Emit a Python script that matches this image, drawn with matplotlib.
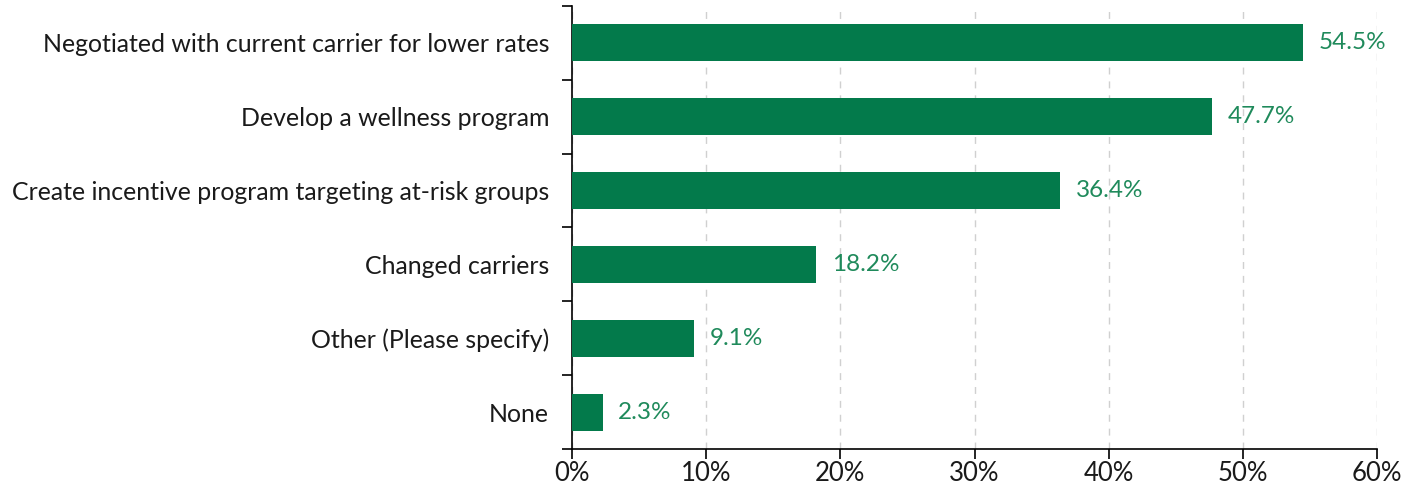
import matplotlib.pyplot as plt
from matplotlib.ticker import FixedLocator, PercentFormatter

categories = [
    'Negotiated with current carrier for lower rates',
    'Develop a wellness program',
    'Create incentive program targeting at-risk groups',
    'Changed carriers',
    'Other (Please specify)',
    'None',
]
values = [54.5, 47.7, 36.4, 18.2, 9.1, 2.3]
value_labels = ['54.5%', '47.7%', '36.4%', '18.2%', '9.1%', '2.3%']

plt.rcParams['font.family'] = ['Lato', 'DejaVu Sans']

fig = plt.figure(figsize=(14.03, 4.94), dpi=100)
ax = fig.add_axes([0.4077, 0.0911, 0.5738, 0.8968])

ypos = list(range(len(categories)))
ax.barh(ypos, values, height=0.5, color='#037a4b', zorder=3)
for y, v, lab in zip(ypos, values, value_labels):
    ax.text(v + 1.15, y, lab, va='center', ha='left', fontsize=17.5, color='#1f8a5b')

ax.set_xlim(0, 60)
ax.set_ylim(len(categories) - 0.5, -0.5)
ax.set_yticks(ypos)
ax.set_yticklabels(categories, fontsize=17.95, color='#1a1a1a')
ax.tick_params(axis='y', which='major', length=0, pad=16.5)
ax.yaxis.set_minor_locator(FixedLocator([i - 0.5 for i in range(len(categories) + 1)]))
ax.tick_params(axis='y', which='minor', length=7, width=1.2, direction='out')

ax.set_xticks(range(0, 61, 10))
ax.xaxis.set_major_formatter(PercentFormatter(decimals=0))
ax.tick_params(axis='x', length=7, width=1.2, labelsize=18.5, labelcolor='#1a1a1a', pad=2)

ax.grid(axis='x', linestyle=(0, (5, 5)), color='#d0d0d0', linewidth=1, zorder=0)
for s in ['top', 'right']:
    ax.spines[s].set_visible(False)
for s in ['left', 'bottom']:
    ax.spines[s].set_linewidth(1.2)

fig.savefig('out.png', dpi=100)
